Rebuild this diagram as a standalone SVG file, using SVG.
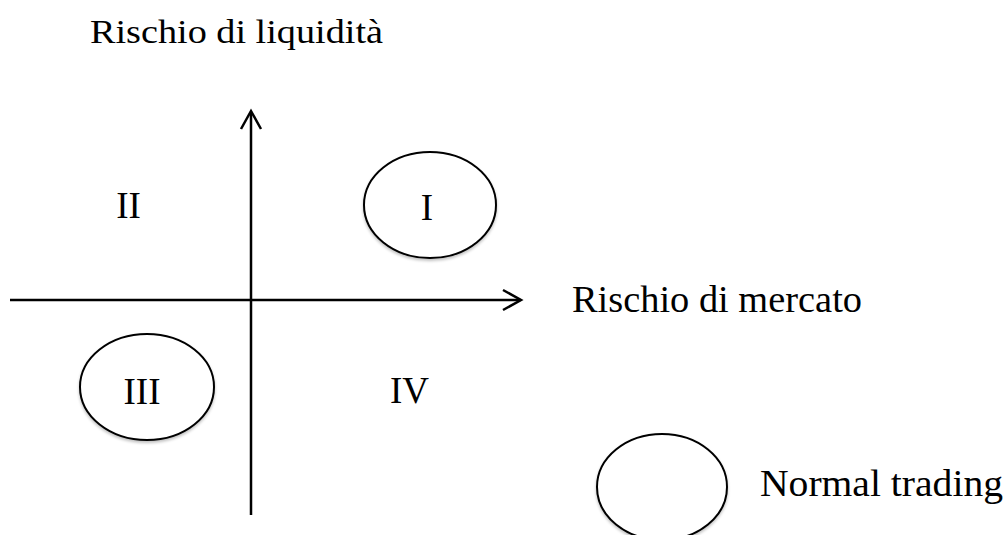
<svg xmlns="http://www.w3.org/2000/svg" width="1007" height="535" viewBox="0 0 1007 535">
<style>
  text { font-family: "Liberation Serif", "DejaVu Serif", serif; font-size: 37px; fill: #000; }
  .title { font-size: 33px; }
  .axis { stroke: #000; stroke-width: 2.5; fill: none; }
  .ell { stroke: #000; stroke-width: 2; fill: #fff; filter: url(#sh); }
</style>
<defs>
  <filter id="sh" x="-20%" y="-20%" width="140%" height="140%">
    <feGaussianBlur in="SourceAlpha" stdDeviation="1.5"/>
    <feOffset dx="0" dy="2" result="b"/>
    <feComponentTransfer><feFuncA type="linear" slope="0.25"/></feComponentTransfer>
    <feMerge><feMergeNode/><feMergeNode in="SourceGraphic"/></feMerge>
  </filter>
</defs>
<rect width="1007" height="535" fill="#fff"/>
<g id="connectors">
  <line class="axis" x1="251" y1="515" x2="251" y2="112"/>
  <polyline class="axis" points="241,129 251,111 261,129"/>
  <line class="axis" x1="10" y1="300" x2="520" y2="300"/>
  <polyline class="axis" points="503,290 521,300 503,310"/>
</g>
<g id="title-y"><text class="title" x="90" y="43" textLength="293" lengthAdjust="spacingAndGlyphs">Rischio di liquidità</text></g>
<g id="title-x"><text x="572" y="312" textLength="290" lengthAdjust="spacingAndGlyphs">Rischio di mercato</text></g>
<g id="q1">
  <ellipse class="ell" cx="430" cy="205" rx="66" ry="53"/>
  <text x="427" y="220" text-anchor="middle">I</text>
</g>
<g id="q2"><text x="128.5" y="218" text-anchor="middle">II</text></g>
<g id="q3">
  <ellipse class="ell" cx="147" cy="387" rx="67" ry="53"/>
  <text x="142" y="404" text-anchor="middle">III</text>
</g>
<g id="q4"><text x="409.5" y="403" text-anchor="middle">IV</text></g>
<g id="legend">
  <ellipse class="ell" cx="662" cy="487" rx="65" ry="53"/>
  <text x="760" y="496" textLength="243" lengthAdjust="spacingAndGlyphs">Normal trading</text>
</g>
</svg>
